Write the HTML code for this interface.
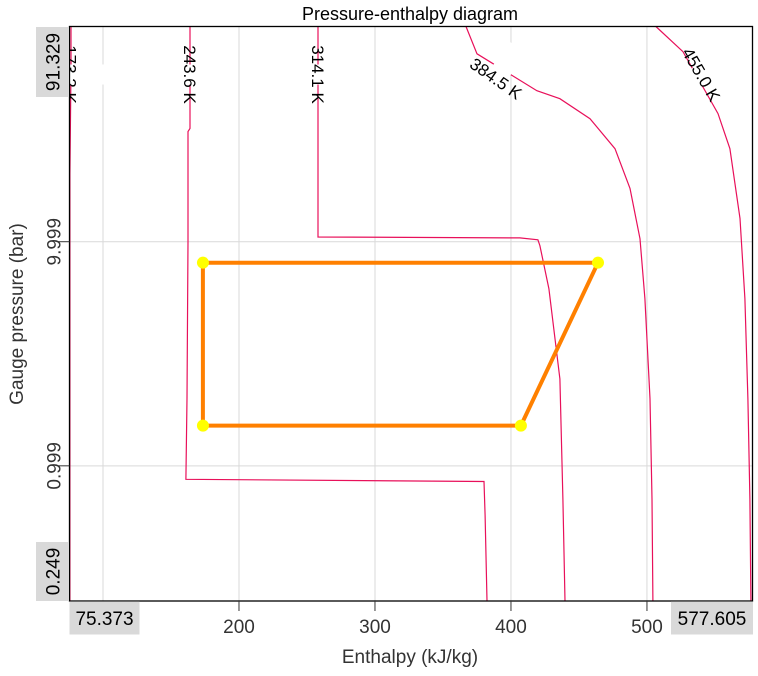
<!DOCTYPE html>
<html><head><meta charset="utf-8"><style>
body{margin:0;background:#fff;}
svg text{font-family:"Liberation Sans",Arial,sans-serif;}
</style></head><body>
<svg id="c" width="758" height="671" xmlns="http://www.w3.org/2000/svg">
<rect width="758" height="671" fill="#fff"/>
<g id="grid"></g><g id="iso"></g><g id="cyc"></g><g id="ax"></g>
</svg>
<script>
const xTicks=[100,200,300,400,500];
const xTickLabels=["","200","300","400","500"];
const yTicks=[0.999,9.999];
const yTickLabels=["0.999","9.999"];
const xDomain=[75.373,577.605];
const yDomain=[0.249,91.329];
const isoNames=["173.2 K","243.6 K","314.1 K","384.5 K","455.0 K"];
const iso173H=[76.5,76.5,75.7,75.7];
const iso173P=[91.3,60,20,0.249];
const iso243H=[164.0,164.0,162.5,162.5,161.8,161.0,380.2,381.0,382.4];
const iso243P=[91.3,32,31,10,2,0.87,0.85,0.6,0.249];
const iso314H=[258.1,258.1,406.6,419.8,421.3,427.9,436.0,438.2,439.7];
const iso314P=[91.3,10.5,10.4,10.2,9.6,6.17,2.44,0.71,0.249];
const iso384H=[366.9,375.0,419.1,436.0,458.1,476.5,487.5,494.9,498.5,502.2,503.7,504.4];
const iso384P=[91.3,69,47.2,43.5,35.4,26,17.3,10.3,5.57,1.99,0.71,0.249];
const iso455H=[506.6,526.5,552.2,561.0,568.4,572.0,574.2,575.7,576.4];
const iso455P=[91.3,70.5,37.3,26,12.7,5.57,1.99,0.71,0.249];
const cycleH=[173.5,464.0,407.3,173.5];
const cycleP=[8.06,8.06,1.51,1.51];
const L=69.5,R=752.5,T=26.5,B=601;
const NS="http://www.w3.org/2000/svg";
function X(h){return L+(h-xDomain[0])/(xDomain[1]-xDomain[0])*(R-L);}
function Y(p){const a=Math.log10(yDomain[0]),b=Math.log10(yDomain[1]);return B-(Math.log10(p)-a)/(b-a)*(B-T);}
function mk(parent,tag,attrs){const e=document.createElementNS(NS,tag);for(const k in attrs)e.setAttribute(k,attrs[k]);document.getElementById(parent).appendChild(e);return e;}
// grid
xTicks.forEach((t,i)=>{
 const g=mk('grid','line',{x1:X(t),x2:X(t),y1:T,y2:B,stroke:'#d9d9d9'});
 
 
});
yTicks.forEach(t=>{
 const g=mk('grid','line',{x1:L,x2:R,y1:Y(t),y2:Y(t),stroke:'#d9d9d9'});
 
 
});
// isotherms
const isoH=[iso173H,iso243H,iso314H,iso384H,iso455H],isoP=[iso173P,iso243P,iso314P,iso384P,iso455P];
isoH.forEach((hs,k)=>{
 const pts=hs.map((h,i)=>X(h).toFixed(1)+','+Y(isoP[k][i]).toFixed(1)).join(' ');
 const pl=mk('iso','polyline',{points:pts,fill:'none',stroke:'#e8105a','stroke-width':1.2});
 
 
});
// isotherm labels (positioned at label points along each curve)
const labelPos=[[76,14],[164.0,20],[258.1,20],[389,55],[540,52]];
const labelRot=[90,90,90,35,60];
labelPos.forEach((lp,k)=>{
 const x=X(lp[0]),y=Y(91.329)+ (k<3?48:(k==3?52:48));
 const bg=mk('iso','rect',{x:x-10,y:y-38,width:20,height:76,fill:'#fff',transform:`rotate(${labelRot[k]} ${x} ${y})`});
 
 
 const t=mk('iso','text',{x:x,y:y+6,'font-size':17,'text-anchor':'middle',fill:'#000',transform:`rotate(${labelRot[k]} ${x} ${y})`});
 t.textContent=isoNames[k];
 
 
});
// cycle
const cpts=cycleH.map((h,i)=>X(h).toFixed(1)+','+Y(cycleP[i]).toFixed(1)).join(' ');
const cy=mk('cyc','polygon',{points:cpts,fill:'none',stroke:'#ff8000','stroke-width':4,'stroke-linejoin':'round'});


cycleH.forEach((h,i)=>{
 const c=mk('cyc','circle',{cx:X(h),cy:Y(cycleP[i]),r:6,fill:'#ffff00'});
 
 
});
// clip side
const m1=mk('ax','rect',{x:0,y:0,width:L,height:671,fill:'#fff'});


// frame
const fr=mk('ax','rect',{x:L,y:T,width:R-L,height:B-T,fill:'none',stroke:'#000','stroke-width':1.3});


// x ticks
xTicks.forEach((t,i)=>{
 if(!xTickLabels[i])return;
 const tk=mk('ax','line',{x1:X(t),x2:X(t),y1:B,y2:B+10,stroke:'#333'});
 
 
 const tx=mk('ax','text',{x:X(t),y:B+32,'font-size':19,'text-anchor':'middle',fill:'#333'});
 tx.textContent=xTickLabels[i];
 
 
});
yTicks.forEach((t,i)=>{
 const tk=mk('ax','line',{x1:L-11,x2:L,y1:Y(t),y2:Y(t),stroke:'#333'});
 
 
 const tx=mk('ax','text',{x:0,y:0,'font-size':19,'text-anchor':'middle',fill:'#333',transform:`translate(${L-9} ${Y(t)}) rotate(-90)`});
 tx.textContent=yTickLabels[i];
 
 
});
// range boxes
function box(x,y,w,h,txt,rot,name){
 const r=mk('ax','rect',{x:x,y:y,width:w,height:h,fill:'#d9d9d9'});
 
 
 const cx=x+w/2,cy=y+h/2;
 const t=mk('ax','text',{x:0,y:7,'font-size':19,'text-anchor':'middle',fill:'#000',transform:`translate(${cx} ${cy}) rotate(${rot})`});
 t.textContent=txt;
 
 
}
box(69.5,601.5,70,33,"75.373",0,'x-min-label');
box(671,601.5,82,33,"577.605",0,'x-max-label');
box(36,27,33,70,"91.329",-90,'y-max-label');
box(36,542,33,59,"0.249",-90,'y-min-label');
// titles
const tt=mk('ax','text',{x:410,y:20,'font-size':18,'text-anchor':'middle',fill:'#000'});
tt.textContent="Pressure-enthalpy diagram";


const xt=mk('ax','text',{x:410,y:663,'font-size':19,'text-anchor':'middle',fill:'#333'});
xt.textContent="Enthalpy (kJ/kg)";


const yt=mk('ax','text',{x:0,y:0,'font-size':19,'text-anchor':'middle',fill:'#333',transform:'translate(23 314) rotate(-90)'});
yt.textContent="Gauge pressure (bar)";


</script>
</body></html>
